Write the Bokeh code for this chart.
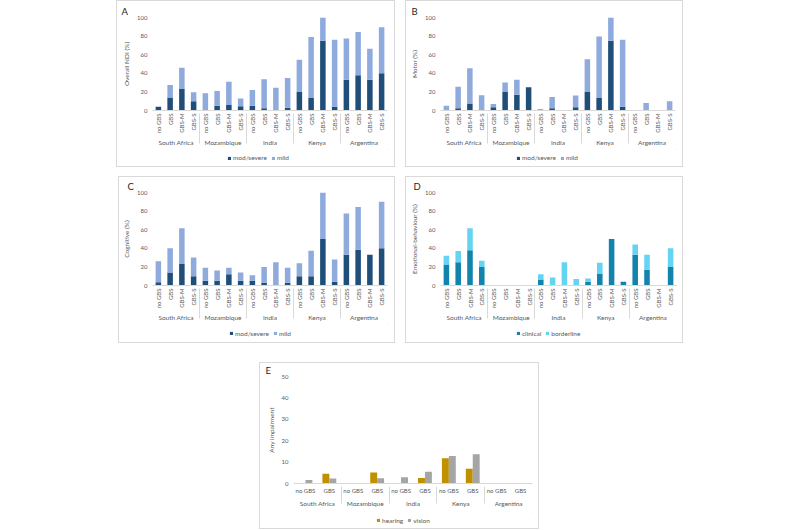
import math
from bokeh.plotting import figure
from bokeh.models import (FactorRange, Range1d, Legend, LegendItem, Spacer,
                          FixedTicker, ColumnDataSource)
from bokeh.transform import dodge
from bokeh.layouts import column, row
from bokeh.embed import file_html
from bokeh.resources import INLINE

# ---------------- data ----------------
countries = ["South Africa", "Mozambique", "India", "Kenya", "Argentina"]
groups = ["no GBS", "GBS", "GBS-M", "GBS-S"]
e_groups = ["no GBS", "GBS"]

ndi_modsevere = [4, 14, 23, 10, 0, 5, 6, 4.5, 5, 2.5, 0, 3, 20, 13.5, 75, 4, 33, 38, 33, 40]
ndi_mild = [0, 13.5, 23, 9.5, 18.5, 16, 25, 8.5, 17, 31, 24.5, 32, 34.5, 65.5, 25, 72, 44.5, 46.5, 33.5, 49.5]

motor_modsevere = [0, 2.5, 7.5, 0, 3.5, 20, 17, 25, 0, 2.5, 0, 3.5, 20, 13.5, 75, 4, 0, 0, 0, 0]
motor_mild = [5, 23, 38, 16.5, 3.5, 10, 16, 0, 1.5, 12, 0, 12.5, 35, 66, 25, 72, 0, 8, 0, 10]

cog_modsevere = [3.5, 14, 23, 10, 5, 5, 12, 5, 5, 3, 0, 3, 10, 10, 50, 4, 33, 38.5, 33, 40]
cog_mild = [22.5, 26, 38.5, 20, 14, 11, 7, 9, 6, 17, 25, 16, 14, 27.5, 50, 24, 44.5, 46, 0, 50]

emo_clinical = [22.5, 25, 38, 20, 0, 0, 0, 0, 6.5, 0, 0, 0, 4, 13, 50, 4, 33, 17, 0, 20]
emo_borderline = [9.5, 12, 23.5, 6.5, 0, 0, 0, 0, 5.5, 8.5, 25, 7, 3.5, 11.5, 0, 0, 11, 16, 0, 20]

hearing = [0, 4.5, 0, 5.1, 0, 2.6, 11.8, 6.9, 0, 0]
vision = [1.6, 2.3, 0, 2.5, 2.9, 5.5, 12.8, 13.7, 0, 0]

# ---------------- style ----------------
FONT = "Lato"
TXT = "#595959"
LINE = "#d9d9d9"
NAVY = "#1f4e79"
LIGHT = "#8faadc"
CLIN = "#1283ad"
BORD = "#65d3f2"
GOLD = "#bf9000"
GRAY = "#a5a5a5"
BOX = {"border": "1px solid #d9d9d9", "background-color": "white"}


def base_fig(letter, ylabel, factors, ymax, step, w, h, left, right, top, bottom,
             letter_offset, rotate=True):
    p = figure(x_range=FactorRange(factors=factors, range_padding=0, group_padding=0,
                                   factor_padding=0),
               y_range=Range1d(0, ymax), width=w, height=h,
               output_backend="svg", toolbar_location=None,
               min_border_left=left, min_border_right=right,
               min_border_top=top, min_border_bottom=bottom,
               title=letter)
    p.title.text_font = FONT
    p.title.text_font_size = "9.5px"
    p.title.text_font_style = "normal"
    p.title.text_color = "#262626"
    p.title.standoff = 0
    p.title.vertical_align = "middle"
    p.title.offset = letter_offset
    p.outline_line_color = None
    p.xgrid.visible = False
    p.ygrid.visible = False

    ya = p.yaxis[0]
    ya.ticker = FixedTicker(ticks=list(range(0, ymax + 1, step)))
    ya.axis_line_color = None
    ya.major_tick_line_color = None
    ya.minor_tick_line_color = None
    ya.major_tick_out = 0
    ya.major_label_text_font = FONT
    ya.major_label_text_font_size = "6px"
    ya.major_label_text_color = TXT
    ya.major_label_standoff = 5
    ya.axis_label = ylabel
    ya.axis_label_text_font = FONT
    ya.axis_label_text_font_size = "6.5px"
    ya.axis_label_text_font_style = "normal"
    ya.axis_label_text_color = TXT
    ya.axis_label_standoff = 4

    xa = p.xaxis[0]
    xa.axis_line_color = LINE
    xa.major_tick_line_color = None
    xa.minor_tick_line_color = None
    xa.major_tick_out = 0
    xa.major_tick_in = 0
    xa.major_label_orientation = math.pi / 2 if rotate else "horizontal"
    xa.major_label_text_font = FONT
    xa.major_label_text_font_size = "6px"
    xa.major_label_text_color = TXT
    xa.major_label_standoff = 3
    xa.group_label_orientation = "horizontal"
    xa.group_text_font = FONT
    xa.group_text_font_size = "6.5px"
    xa.group_text_color = TXT
    xa.group_text_font_style = "normal"
    xa.separator_line_color = LINE
    xa.separator_line_width = 1
    return p


def legend_fig(w, h, labels, colors, lx):
    lf = figure(width=w, height=h, output_backend="svg", toolbar_location=None,
                x_range=Range1d(0, 1), y_range=Range1d(0, 1),
                min_border=0, x_axis_type=None, y_axis_type=None)
    lf.outline_line_color = None
    lf.xgrid.visible = False
    lf.ygrid.visible = False
    items = []
    for lab, col in zip(labels, colors):
        # a swatch renderer for the key (its one mark lies outside the view)
        r = lf.vbar(x=[5], top=[5], bottom=[4], width=1, color=col, line_color=None)
        items.append(LegendItem(label=lab, renderers=[r]))
    lg = Legend(items=items, orientation="horizontal", location=(lx, (h - 8) / 2),
                label_text_font=FONT, label_text_font_size="6.5px",
                label_text_color=TXT, glyph_width=4, glyph_height=4,
                label_standoff=2, spacing=4, padding=0, margin=0,
                border_line_color=None, background_fill_alpha=0,
                label_height=8, label_width=8)
    lf.add_layout(lg, "center")
    return lf


stack_factors = [(c, g) for c in countries for g in groups]
e_factors = [(c, g) for c in countries for g in e_groups]


def stacked_panel(letter, ylabel, lower, upper, c1, c2, labels, box_w, box_h,
                  chart_h, left, right, top, bottom, letter_offset, lx):
    w = box_w - 2
    p = base_fig(letter, ylabel, stack_factors, 100, 20, w, chart_h, left, right,
                 top, bottom, letter_offset)
    src = ColumnDataSource(dict(x=stack_factors, lo=lower, hi=upper))
    p.vbar_stack(["lo", "hi"], x="x", width=0.47, color=[c1, c2],
                 line_color=None, source=src)
    lf = legend_fig(w, box_h - 2 - chart_h, labels, [c1, c2], lx)
    return column(p, lf, styles=BOX)


panelA = stacked_panel("A", "Overall NDI (%)", ndi_modsevere, ndi_mild, NAVY, LIGHT,
                       ["mod/severe", "mild"], 279, 167, 148, 35, 7, 16, 38, -31, 75)
panelB = stacked_panel("B", "Motor (%)", motor_modsevere, motor_mild, NAVY, LIGHT,
                       ["mod/severe", "mild"], 278, 167, 148, 34, 7, 16, 38, -29, 76)
panelC = stacked_panel("C", "Cognitive (%)", cog_modsevere, cog_mild, NAVY, LIGHT,
                       ["mod/severe", "mild"], 277, 167, 147, 33, 7, 15, 37, -25, 77)
panelD = stacked_panel("D", "Emotional-behaviour (%)", emo_clinical, emo_borderline,
                       CLIN, BORD, ["clinical", "borderline"], 278, 167, 147, 34, 6,
                       15, 37, -27, 76)

# Panel E (grouped bars)
pE = base_fig("E", "Any impairment", e_factors, 50, 10, 278, 149, 33, 6, 6, 29,
              -28, rotate=False)
pE.title.text_line_height = 0.7
srcE = ColumnDataSource(dict(x=e_factors, hearing=hearing, vision=vision))
pE.vbar(x=dodge("x", -0.145, range=pE.x_range), top="hearing", width=0.29,
        color=GOLD, line_color=None, source=srcE)
pE.vbar(x=dodge("x", 0.145, range=pE.x_range), top="vision", width=0.29,
        color=GRAY, line_color=None, source=srcE)
panelE = column(pE, legend_fig(278, 16, ["hearing", "vision"], [GOLD, GRAY], 83),
                styles=BOX)

layout = column(
    row(Spacer(width=116), panelA, Spacer(width=10), panelB),
    Spacer(height=9),
    row(Spacer(width=118), panelC, Spacer(width=10), panelD),
    Spacer(height=19),
    row(Spacer(width=259), panelE),
)

open("out.html", "w").write(file_html(layout, INLINE))
